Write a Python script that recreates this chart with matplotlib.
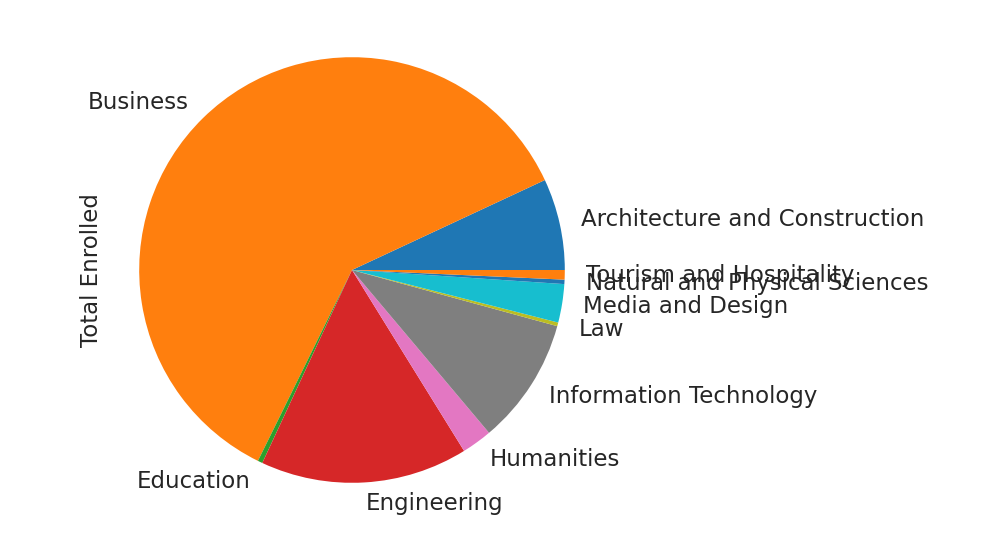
import matplotlib.pyplot as plt

categories = ['Architecture and Construction', 'Business', 'Education', 'Engineering',
              'Humanities', 'Information Technology', 'Law', 'Media and Design',
              'Natural and Physical Sciences', 'Tourism and Hospitality']
enrolled = [250, 2187, 13, 567, 83, 346, 10, 105, 12, 26]
colors = ['#1f77b4', '#ff7f0e', '#2ca02c', '#d62728', '#e377c2', '#7f7f7f',
          '#bcbd22', '#17becf', '#1f77b4', '#ff7f0e']

fig = plt.figure(figsize=(9.92, 5.42), dpi=100)
ax = fig.add_axes([86 / 992, 6 / 542, 532 / 992, 532 / 542])
ax.pie(enrolled, labels=categories, colors=colors, startangle=0,
       textprops={'fontsize': 16.5, 'color': '#262626'})
ax.set_xlim(-1.25, 1.25)
ax.set_ylim(-1.25, 1.25)
ax.set_aspect('equal')
ax.set_ylabel('Total Enrolled', fontsize=16.5, color='#262626', labelpad=-12)
for s in ax.spines.values():
    s.set_visible(False)
ax.set_xticks([])
ax.set_yticks([])
fig.savefig('out.png', dpi=100)
